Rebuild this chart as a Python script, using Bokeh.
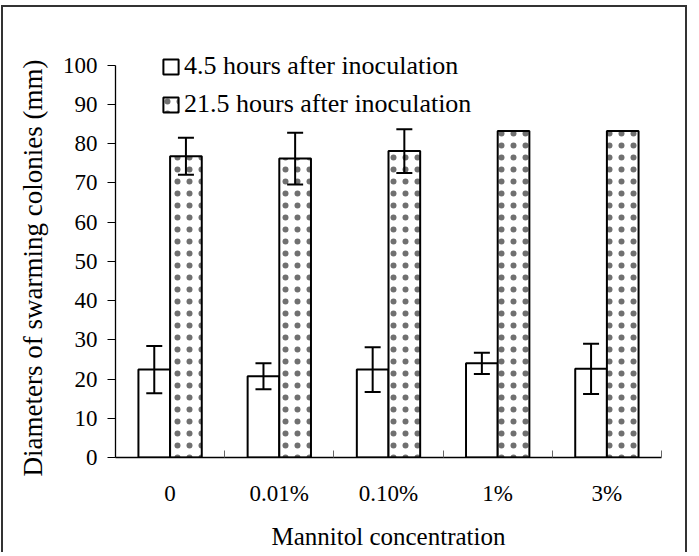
import numpy as np
from bokeh.plotting import figure
from bokeh.models import (Range1d, FixedTicker, LinearAxis, Whisker, TeeHead,
                          ColumnDataSource, Legend, LegendItem, Title)
from bokeh.embed import file_html
from bokeh.resources import INLINE

# ---- data ----
categories = ["0", "0.01%", "0.10%", "1%", "3%"]
h45_mean = [22.4, 20.7, 22.4, 24.0, 22.6]
h45_err = [6.0, 3.3, 5.7, 2.7, 6.4]
h215_mean = [76.8, 76.2, 78.1, 83.2, 83.2]
h215_err = [4.7, 6.6, 5.6, 0.0, 0.0]
y_ticks = [0, 10, 20, 30, 40, 50, 60, 70, 80, 90, 100]
series_labels = ["4.5 hours after inoculation", "21.5 hours after inoculation"]
x_title = "Mannitol concentration"
y_title = "Diameters of swarming colonies (mm)"

FONT = "Liberation Serif"
BAR_W = 0.29

idx = np.arange(len(categories))
centers = idx + 0.5

m1 = np.array(h45_mean); e1 = np.array(h45_err)
m2 = np.array(h215_mean); e2 = np.array(h215_err)
src1 = ColumnDataSource(dict(x=centers - BAR_W / 2, top=m1, upper=m1 + e1, lower=m1 - e1))
src2 = ColumnDataSource(dict(x=centers + BAR_W / 2, top=m2, upper=m2 + e2, lower=m2 - e2))

p = figure(width=686, height=547, x_range=Range1d(0, len(categories)), y_range=Range1d(0, 104),
           output_backend="svg", toolbar_location=None, x_axis_type=None, y_axis_type=None,
           min_border_left=102, min_border_right=28, min_border_top=42, min_border_bottom=97)
p.styles = {"border-top": "2px solid #333333", "border-left": "2px solid #333333",
            "border-right": "2px solid #333333", "margin-left": "1px", "margin-top": "5px"}
p.outline_line_color = None
p.xgrid.visible = False
p.ygrid.visible = False
p.background_fill_color = "white"
p.border_fill_color = "white"

r1 = p.vbar(x="x", top="top", width=BAR_W, bottom=0, source=src1,
            fill_color="white", line_color="black", line_width=2)
r2 = p.vbar(x="x", top="top", width=BAR_W, bottom=0, source=src2,
            fill_color="white", line_color="black", line_width=2,
            hatch_pattern="dot", hatch_color="#707070", hatch_scale=12, hatch_weight=0.5)

for src in (src1, src2):
    w = Whisker(source=src, base="x", upper="upper", lower="lower", level="annotation",
                line_color="black", line_width=2,
                upper_head=TeeHead(size=16, line_width=2, line_color="black"),
                lower_head=TeeHead(size=16, line_width=2, line_color="black"))
    p.add_layout(w)

# y axis
ya = LinearAxis(ticker=FixedTicker(ticks=y_ticks, minor_ticks=[]), bounds=(0, 100))
ya.axis_line_color = "black"
ya.axis_line_width = 1.3
ya.major_tick_in = 0
ya.major_tick_out = 8
ya.major_tick_line_color = "black"
ya.major_tick_line_width = 1
ya.minor_tick_line_color = None
ya.major_label_text_font = FONT
ya.major_label_text_font_size = "23px"
ya.major_label_text_color = "black"
ya.major_label_standoff = 10
p.add_layout(ya, "left")

yt = Title(text=y_title, align="left", offset=-19, standoff=24,
           text_font=FONT, text_font_size="27px", text_font_style="normal", text_color="black")
p.add_layout(yt, "left")

# x axis: labels at category centres, small inward ticks at category boundaries
xa = LinearAxis(ticker=FixedTicker(ticks=list(centers), minor_ticks=list(np.arange(len(categories) + 1))))
xa.major_label_overrides = {float(c): lab for c, lab in zip(centers, categories)}
xa.axis_line_color = "black"
xa.axis_line_width = 1.5
xa.major_tick_line_color = None
xa.major_tick_in = 0
xa.major_tick_out = 0
xa.minor_tick_in = 7
xa.minor_tick_out = 0
xa.minor_tick_line_color = "#666666"
xa.minor_tick_line_width = 1
xa.major_label_text_font = FONT
xa.major_label_text_font_size = "23px"
xa.major_label_text_color = "black"
xa.major_label_standoff = 23
xa.axis_label = x_title
xa.axis_label_text_font = FONT
xa.axis_label_text_font_size = "25px"
xa.axis_label_text_font_style = "normal"
xa.axis_label_text_color = "black"
xa.axis_label_standoff = 14
p.add_layout(xa, "below")

legend = Legend(items=[LegendItem(label=series_labels[0], renderers=[r1]),
                       LegendItem(label=series_labels[1], renderers=[r2])],
                location=(46, 338), orientation="vertical",
                glyph_width=19, glyph_height=19, label_height=19, label_standoff=4,
                spacing=8, padding=0, margin=0,
                label_text_font=FONT, label_text_font_size="26px", label_text_color="black",
                border_line_color=None, background_fill_alpha=0)
p.add_layout(legend, "center")

open("out.html", "w").write(file_html(p, INLINE))
